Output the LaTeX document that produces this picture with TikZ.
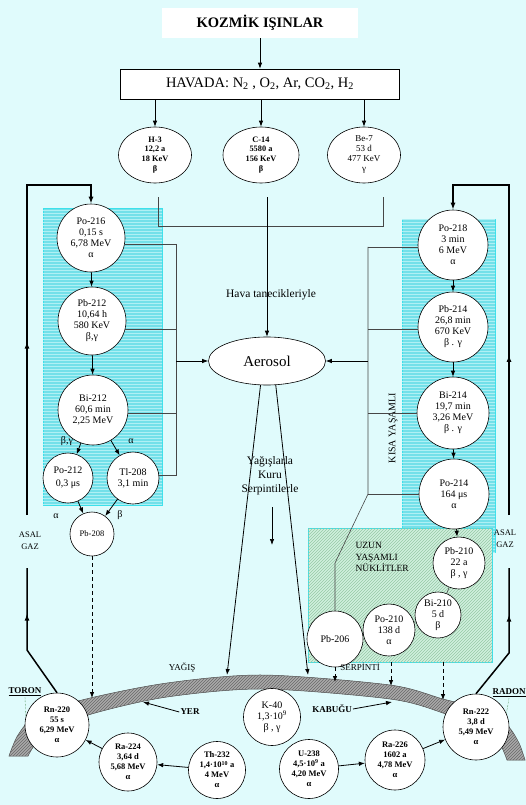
\documentclass[tikz,border=0pt]{standalone}
\usepackage{fontspec}
\setmainfont{Liberation Serif}
\usetikzlibrary{shapes.geometric,arrows.meta,patterns,decorations.markings,calc}
\definecolor{bgc}{RGB}{224,251,252}
\definecolor{cyanfill}{RGB}{115,224,233}
\definecolor{cyanline}{RGB}{175,240,244}
\definecolor{cyanedge}{RGB}{60,225,235}
\definecolor{greenfill}{RGB}{208,240,222}
\definecolor{greenline}{RGB}{150,200,165}
\definecolor{bandfill}{RGB}{170,170,170}
\definecolor{bandline}{RGB}{105,105,105}
\definecolor{linkc}{RGB}{70,70,70}
\tikzset{
  nuc/.style={circle, draw=black, line width=0.6pt, fill=white, inner sep=0pt, align=center, font=\fontsize{10}{11}\selectfont},
  gnuc/.style={nuc, font=\bfseries\fontsize{8.5}{10}\selectfont},
  topell/.style={ellipse, draw=black, line width=0.6pt, fill=white, inner sep=0pt, minimum width=73pt, minimum height=56pt, align=center, font=\bfseries\fontsize{8.3}{9.8}\selectfont},
  arr/.style={-{Latex[length=6pt,width=4.5pt]}, line width=0.8pt},
  dsh/.style={arr, dash pattern=on 4pt off 3pt},
  link/.style={draw=linkc, line width=0.6pt},
  loopl/.style={line width=1.5pt},
  midarrow/.style={postaction={decorate,decoration={markings,mark=at position #1 with {\arrow{Latex[length=7pt,width=5pt]}}}}},
  lbl/.style={font=\fontsize{10}{11}\selectfont, inner sep=1pt},
  caps/.style={font=\fontsize{9}{10}\selectfont, inner sep=1pt},
  bcaps/.style={font=\bfseries\fontsize{9}{10}\selectfont, inner sep=1pt}
}
\begin{document}
\begin{tikzpicture}[x=1pt,y=-1pt]
\useasboundingbox (0,0) rectangle (526,805);
\fill[bgc] (0,0) rectangle (526,805);

% shaded regions
\path[fill=cyanfill, postaction={pattern=horizontal lines, pattern color=cyanline}, draw=cyanedge, line width=0.6pt] (43,208) rectangle (162,505);
\path[fill=cyanfill, postaction={pattern=horizontal lines, pattern color=cyanline}, draw=cyanedge, line width=0.6pt] (402,219) rectangle (495,552);
\path[fill=greenfill, postaction={pattern=north east lines, pattern color=greenline}, draw=cyanedge, line width=0.8pt] (308,528) rectangle (492,662);

% earth crust band
\path[draw=black!70, line width=0.5pt, fill=bandfill, postaction={pattern=north east lines, pattern color=bandline}]
  plot[smooth] coordinates {(9,756) (18,735) (35,717) (82,700) (167,683) (263,675) (390,685) (443,699) (488,711) (508,726) (519,743) (525,760)}
  -- plot[smooth] coordinates {(507,760) (500,744) (487,731) (443,713) (390,699) (263,689) (167,697) (95,713) (52,729) (36,743) (28,756)}
  -- cycle;

% top
\node[fill=white, minimum width=196pt, minimum height=30pt, font=\bfseries\fontsize{14.5}{16}\selectfont] (kozmik) at (260,23) {KOZMİK IŞINLAR};
\node[draw=black, line width=0.6pt, fill=white, minimum width=279pt, minimum height=30pt, font=\fontsize{14.5}{16}\selectfont] (havada) at (260,84) {HAVADA: N\textsubscript{2} , O\textsubscript{2}, Ar, CO\textsubscript{2}, H\textsubscript{2}};
\node[topell] (h3) at (155,155) {H-3\\12,2 a\\18 KeV\\β};
\node[topell, minimum width=76pt] (c14) at (261,155) {C-14\\5580 a\\156 KeV\\β};
\node[topell, font=\fontsize{9}{10}\selectfont] (be7) at (364,155) {Be-7\\53 d\\477 KeV\\γ};

\node[ellipse, draw=black, line width=0.6pt, fill=white, minimum width=117pt, minimum height=48pt, inner sep=0pt, font=\fontsize{15}{16}\selectfont] (aerosol) at (267,361) {Aerosol};

% left chain
\node[nuc, minimum size=68pt] (po216) at (91,238) {Po-216\\0,15 s\\6,78 MeV\\α};
\node[nuc, minimum size=68pt] (pb212) at (92,321) {Pb-212\\10,64 h\\580 KeV\\β,γ};
\node[nuc, minimum size=70pt] (bi212) at (93,410) {Bi-212\\60,6 min\\2,25 MeV};
\node[nuc, minimum size=50pt] (po212) at (68,478) {Po-212\\[2pt]0,3 μs};
\node[nuc, minimum size=52pt] (tl208) at (133,478) {Tl-208\\3,1 min};
\node[nuc, minimum size=44pt, font=\fontsize{8.5}{10}\selectfont] (pb208) at (92,534) {Pb-208};

% right chain
\node[nuc, minimum size=70pt] (po218) at (453,245) {Po-218\\3 min\\6 MeV\\α};
\node[nuc, minimum size=70pt] (pb214) at (453,327) {Pb-214\\26,8 min\\670 KeV\\β . γ};
\node[nuc, minimum size=72pt] (bi214) at (453,413) {Bi-214\\19,7 min\\3,26 MeV\\β . γ};
\node[nuc, minimum size=70pt] (po214) at (454,494) {Po-214\\164 μs\\α};
\node[nuc, minimum size=52pt] (pb210) at (459,563) {Pb-210\\22 a\\β , γ};
\node[nuc, minimum size=46pt] (bi210) at (438,615) {Bi-210\\5 d\\β};
\node[nuc, minimum size=52pt] (po210) at (389,630) {Po-210\\138 d\\α};
\node[nuc, minimum size=56pt] (pb206) at (335,639) {Pb-206};

% ground
\node[gnuc, minimum size=64pt] (rn220) at (57,725) {Rn-220\\55 s\\6,29 MeV\\α};
\node[gnuc, minimum size=58pt] (ra224) at (128,762) {Ra-224\\3,64 d\\5,68 MeV\\α};
\node[gnuc, minimum size=57pt] (th232) at (217,770) {Th-232\\1,4·10\textsuperscript{10} a\\4 MeV\\α};
\node[nuc, minimum size=57pt] (k40) at (272,717) {K-40\\1,3·10\textsuperscript{9}\\β , γ};
\node[gnuc, minimum size=59pt] (u238) at (309,769) {U-238\\4,5·10\textsuperscript{9} a\\4,20 MeV\\α};
\node[gnuc, minimum size=60pt] (ra226) at (395,760) {Ra-226\\1602 a\\4,78 MeV\\α};
\node[gnuc, minimum size=66pt] (rn222) at (476,727) {Rn-222\\3,8 d\\5,49 MeV\\α};

% texts
\node[font=\fontsize{11.5}{13}\selectfont, inner sep=1pt] (hava) at (271,295) {Hava tanecikleriyle};
\node[align=center, font=\fontsize{11.5}{14}\selectfont, inner sep=1pt] (yagis) at (270,476) {Yağışlarla\\Kuru\\Serpintilerle};
\node[rotate=90, font=\fontsize{10}{11}\selectfont] (kisa) at (393,428) {KISA YAŞAMLI};
\node[anchor=west, align=left, font=\fontsize{9.5}{11.5}\selectfont] (uzun) at (352,557) {UZUN\\YAŞAMLI\\NÜKLİTLER};
\node[align=center, font=\fontsize{8.5}{12}\selectfont] (asalL) at (30,541) {ASAL\\GAZ};
\node[align=center, font=\fontsize{8.5}{12}\selectfont] (asalR) at (505,539) {ASAL\\GAZ};
\node[caps] (yagisl) at (182,668) {YAĞIŞ};
\node[bcaps] (yer) at (190,712) {YER};
\node[bcaps] (kabugu) at (332,709) {KABUĞU};
\node[caps] (serp) at (360,667) {SERPİNTİ};
\node[bcaps] (toron) at (25,692) {\underline{TORON}};
\node[bcaps] (radon) at (509,693) {\underline{RADON}};
\node[lbl] (lbg) at (67,441) {β,γ};
\node[lbl] (la1) at (131,441) {α};
\node[lbl] (la2) at (56,516) {α};
\node[lbl] (lb2) at (120,515) {β};

% coordinates
\coordinate (h3o) at (158,197);
\coordinate (hj) at (158,226);
\coordinate (c14o) at (267,197);
\coordinate (bj) at (383,226);
\coordinate (be7o) at (383,197);
\coordinate (lb) at (176,361);
\coordinate (rb) at (368,361);
\coordinate (rbk) at (335,563);
\coordinate (lA) at (27,185);
\coordinate (lB) at (27,515);
\coordinate (lC) at (27,568);
\coordinate (lD) at (27,650);
\coordinate (rA) at (509,185);
\coordinate (rB) at (509,515);
\coordinate (rC) at (509,568);
\coordinate (rD) at (509,653);
\coordinate (rainL) at (227,675);
\coordinate (rainR) at (308,675);
\coordinate (ya1) at (272,507);
\coordinate (ya2) at (272,545);
\coordinate (d1) at (91,698);
\coordinate (d2) at (335,682);
\coordinate (g2s) at (391,662);
\coordinate (g2e) at (391,686);
\coordinate (g3s) at (443,662);
\coordinate (g3e) at (443,700);
\coordinate (yertip) at (143,702);
\coordinate (kabtip) at (392,702);

% top connectors
\draw[arr] (kozmik.south) -- (havada.north);
\draw[arr] (havada.south -| h3) -- (h3.north);
\draw[arr] (havada.south -| c14) -- (c14.north);
\draw[arr] (havada.south -| be7) -- (be7.north);
\draw[link] (h3o) -- (hj) -- (bj) -- (be7o);
\draw[arr] (c14o) -- (aerosol.north);

% chain arrows
\draw[arr] (po216) -- (pb212);
\draw[arr] (pb212) -- (bi212);
\draw[arr] (bi212) -- (po212);
\draw[arr] (bi212) -- (tl208);
\draw[arr] (po212) -- (pb208);
\draw[arr] (tl208) -- (pb208);
\draw[arr] (po218) -- (pb214);
\draw[arr] (pb214) -- (bi214);
\draw[arr] (bi214) -- (po214);
\draw[arr] (po214) -- (pb210);
\draw[link] (pb210) -- (bi210);
\draw[link] (bi210) -- (po210);

% buses to aerosol
\draw[link] (po216.350) -- (po216.350 -| lb);
\draw[link] (pb212.346) -- (pb212.346 -| lb);
\draw[link] (bi212.355) -- (bi212.355 -| lb);
\draw[link] (tl208.5) -- (tl208.5 -| lb);
\draw[link] (po216.350 -| lb) -- (tl208.5 -| lb);
\draw[arr] (lb) -- (aerosol.west);
\draw[link] (po218.183) -- (po218.183 -| rb);
\draw[link] (pb214.183) -- (pb214.183 -| rb);
\draw[link] (bi214.180) -- (bi214.180 -| rb);
\draw[link] (po214.180) -- (po214.180 -| rb);
\draw[link] (po218.183 -| rb) -- (po214.180 -| rb) -- (rbk) -- (pb206.north);
\draw[arr] (rb) -- (aerosol.east);

% fallout
\draw[arr] (aerosol.255) -- (rainL);
\draw[arr] (aerosol.290) -- (rainR);
\draw[arr, line width=0.7pt] (ya1) -- (ya2);
\draw[dsh] (pb208.south) -- (pb208.south |- d1);
\draw[dsh] (pb206.south) -- (d2);
\draw[dsh] (g2s) -- (g2e);
\draw[dsh] (g3s) -- (g3e);
\draw[arr] (yer.west) -- (yertip);
\draw[arr] (kabugu.east) -- (kabtip);

% ground decays
\draw[arr] (th232) -- (ra224);
\draw[arr] (ra224) -- (rn220);
\draw[arr] (u238) -- (ra226);
\draw[arr] (ra226) -- (rn222);

% leaders
\draw[densely dotted, line width=0.4pt, draw=green!35!black] (toron.south) -- (rn220.165);
\draw[densely dotted, line width=0.4pt, draw=green!35!black] (radon.south) -- (rn222.24);

% noble gas loops
\draw[loopl, midarrow=0.66] (rn220.north) -- (lD) -- (lC);
\draw[loopl, midarrow=0.42, -{Latex[length=7pt,width=5pt]}] (lB) -- (lA) -| (po216.north);
\draw[loopl, midarrow=0.66] (rn222.north) -- (rD) -- (rC);
\draw[loopl, midarrow=0.39, -{Latex[length=7pt,width=5pt]}] (rB) -- (rA) -| (po218.north);
\end{tikzpicture}
\end{document}
